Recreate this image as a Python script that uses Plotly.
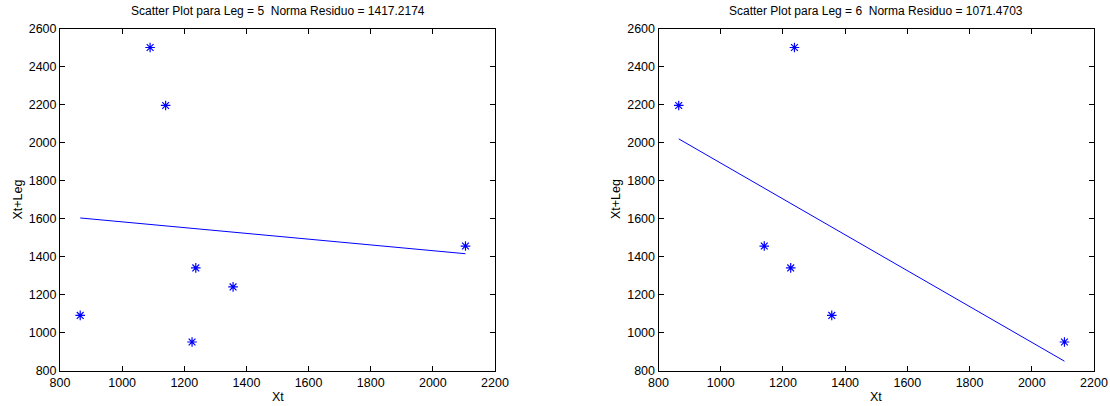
import numpy as np
import plotly.graph_objects as go

# Lagged scatter data: X_t against X_{t+Leg}
xt_leg5 = [865, 1090, 1140, 1225, 1237, 1357, 2105]
yt_leg5 = [1090, 2500, 2195, 950, 1340, 1240, 1455]

xt_leg6 = [865, 1140, 1225, 1237, 1357, 2105]
yt_leg6 = [2195, 1455, 1340, 2500, 1090, 950]

titles = [
    "Scatter Plot para Leg = 5  Norma Residuo = 1417.2174",
    "Scatter Plot para Leg = 6  Norma Residuo = 1071.4703",
]
x_label = "Xt"
y_label = "Xt+Leg"

x_ticks = [800, 1000, 1200, 1400, 1600, 1800, 2000, 2200]
y_ticks = [800, 1000, 1200, 1400, 1600, 1800, 2000, 2200, 2400, 2600]

BLUE = "rgb(0,0,255)"
FONT = "Liberation Sans, Arial, Helvetica, sans-serif"

W, H = 1110, 406
# plot boxes in pixels (left, right, top, bottom)
boxes = [(60, 495, 28.5, 370.5), (658.5, 1094, 28.5, 370.5)]

fig = go.Figure()

datasets = [(xt_leg5, yt_leg5), (xt_leg6, yt_leg6)]
for i, (xs, ys) in enumerate(datasets):
    xa = "x" if i == 0 else "x2"
    ya = "y" if i == 0 else "y2"
    # least-squares straight line through the points
    coef = np.polyfit(xs, ys, 1)
    x_fit = np.array([min(xs), max(xs)], dtype=float)
    y_fit = np.polyval(coef, x_fit)
    fig.add_trace(go.Scatter(
        x=x_fit, y=y_fit, mode="lines",
        line=dict(color=BLUE, width=1),
        xaxis=xa, yaxis=ya, showlegend=False, hoverinfo="skip",
    ))
    fig.add_trace(go.Scatter(
        x=xs, y=ys, mode="markers",
        marker=dict(symbol="asterisk-open", size=8, color=BLUE,
                    line=dict(color=BLUE, width=1.2)),
        xaxis=xa, yaxis=ya, showlegend=False,
    ))

axis_common = dict(
    showgrid=False, zeroline=False, showline=True, linecolor="black",
    linewidth=1, mirror="ticks", ticks="inside", ticklen=5,
    tickcolor="black", tickwidth=1, automargin=False,
    tickfont=dict(family=FONT, size=12.5, color="black"),
)

layout = dict(
    width=W, height=H,
    margin=dict(l=0, r=0, t=0, b=0),
    paper_bgcolor="white", plot_bgcolor="white",
    font=dict(family=FONT, size=12, color="black"),
    annotations=[],
)

for i, (l, r, t, b) in enumerate(boxes):
    xdom = [l / W, r / W]
    ydom = [1 - b / H, 1 - t / H]
    sx = "" if i == 0 else "2"
    layout["xaxis" + sx] = dict(
        axis_common, domain=xdom, range=[800, 2200],
        tickvals=x_ticks, ticktext=[str(v) for v in x_ticks],
        anchor="y" + sx,
    )
    layout["yaxis" + sx] = dict(
        axis_common, domain=ydom, range=[800, 2600],
        tickvals=y_ticks, ticktext=[str(v) for v in y_ticks],
        anchor="x" + sx,
    )
    cx = (l + r) / 2 / W
    layout["annotations"].append(dict(
        text=titles[i], x=cx, y=1 - 11 / H, xref="paper", yref="paper",
        xanchor="center", yanchor="middle", showarrow=False,
        font=dict(family=FONT, size=12, color="black"),
    ))
    layout["annotations"].append(dict(
        text=x_label, x=cx, y=1 - 397 / H, xref="paper", yref="paper",
        xanchor="center", yanchor="middle", showarrow=False,
        font=dict(family=FONT, size=12.5, color="black"),
    ))
    layout["annotations"].append(dict(
        text=y_label, x=(l - 43) / W, y=1 - ((t + b) / 2) / H,
        xref="paper", yref="paper", textangle=-90,
        xanchor="center", yanchor="middle", showarrow=False,
        font=dict(family=FONT, size=12.5, color="black"),
    ))

fig.update_layout(**layout)
fig.write_html("out.html")
